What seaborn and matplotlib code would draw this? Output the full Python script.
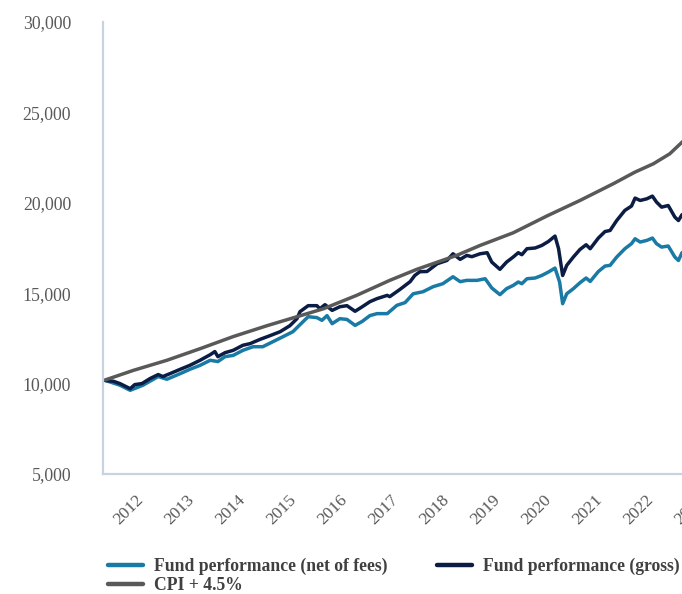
import matplotlib
matplotlib.use("Agg")
import matplotlib.pyplot as plt
import seaborn as sns
import pandas as pd
from matplotlib.ticker import FuncFormatter
from matplotlib.lines import Line2D

# ---- data ----
net_years = [2011.18, 2011.47, 2011.67, 2011.92, 2012.22, 2012.39, 2012.65, 2012.84, 2013.04, 2013.24,
             2013.39, 2013.53, 2013.69, 2013.88, 2014.08, 2014.27, 2014.47, 2014.67, 2014.86, 2015.00,
             2015.16, 2015.33, 2015.43, 2015.53, 2015.63, 2015.78, 2015.92, 2016.08, 2016.22, 2016.37,
             2016.51, 2016.71, 2016.90, 2017.06, 2017.22, 2017.41, 2017.61, 2017.80, 2018.00, 2018.14,
             2018.27, 2018.47, 2018.63, 2018.76, 2018.92, 2019.05, 2019.18, 2019.28, 2019.35, 2019.45,
             2019.61, 2019.74, 2019.87, 2020.00, 2020.09, 2020.15, 2020.23, 2020.36, 2020.49, 2020.61,
             2020.69, 2020.85, 2020.98, 2021.08, 2021.21, 2021.37, 2021.50, 2021.57, 2021.67, 2021.80,
             2021.91, 2021.99, 2022.09, 2022.22, 2022.35, 2022.42, 2022.49, 2022.60]
net_values = [10180, 9910, 9630, 9910, 10390, 10240, 10550, 10790, 11010, 11290,
              11220, 11490, 11560, 11840, 12040, 12040, 12320, 12600, 12870, 13260,
              13700, 13650, 13500, 13760, 13315, 13590, 13550, 13220, 13440, 13760,
              13870, 13870, 14330, 14480, 14970, 15080, 15360, 15525, 15910, 15640,
              15710, 15710, 15800, 15290, 14920, 15250, 15430, 15620, 15525, 15800,
              15840, 15980, 16170, 16390, 15620, 14420, 14970, 15250, 15580, 15840,
              15650, 16200, 16500, 16540, 17000, 17460, 17740, 18010, 17830, 17920,
              18050, 17740, 17550, 17610, 17000, 16810, 17240, 17400]

gross_years = [2011.18, 2011.34, 2011.47, 2011.67, 2011.76, 2011.90, 2012.06, 2012.22, 2012.31, 2012.45,
               2012.65, 2012.84, 2013.04, 2013.24, 2013.33, 2013.39, 2013.53, 2013.69, 2013.88, 2014.02,
               2014.22, 2014.41, 2014.61, 2014.80, 2014.94, 2015.00, 2015.16, 2015.33, 2015.39, 2015.49,
               2015.63, 2015.78, 2015.92, 2016.08, 2016.22, 2016.37, 2016.51, 2016.71, 2016.76, 2016.96,
               2017.16, 2017.25, 2017.35, 2017.49, 2017.69, 2017.88, 2018.00, 2018.14, 2018.27, 2018.37,
               2018.53, 2018.67, 2018.76, 2018.92, 2019.05, 2019.18, 2019.28, 2019.35, 2019.45, 2019.61,
               2019.74, 2019.87, 2020.00, 2020.07, 2020.15, 2020.23, 2020.36, 2020.49, 2020.61, 2020.69,
               2020.85, 2020.98, 2021.08, 2021.21, 2021.37, 2021.50, 2021.57, 2021.67, 2021.80, 2021.91,
               2021.99, 2022.09, 2022.22, 2022.35, 2022.42, 2022.49, 2022.60]
gross_values = [10170, 10130, 10000, 9720, 9945, 10000, 10280, 10500, 10390, 10550,
                10790, 11010, 11290, 11600, 11770, 11490, 11710, 11840, 12120, 12210,
                12450, 12650, 12870, 13200, 13590, 13980, 14310, 14310, 14140, 14365,
                14050, 14250, 14310, 14000, 14250, 14530, 14700, 14880, 14810, 15210,
                15640, 15980, 16190, 16200, 16630, 16810, 17180, 16870, 17090, 17020,
                17180, 17240, 16720, 16320, 16720, 17000, 17240, 17130, 17460, 17500,
                17640, 17860, 18160, 17460, 15980, 16540, 17000, 17420, 17680, 17460,
                18050, 18410, 18470, 19020, 19580, 19820, 20260, 20130, 20220, 20370,
                20040, 19760, 19850, 19210, 19020, 19340, 19500]

cpi_years = [2011.18, 2011.73, 2012.39, 2013.04, 2013.69, 2014.35, 2014.94, 2015.46, 2016.11, 2016.76,
             2017.29, 2018.07, 2018.53, 2019.18, 2019.84, 2020.49, 2021.14, 2021.57, 2021.93, 2022.25,
             2022.49, 2022.60]
cpi_values = [10200, 10730, 11290, 11930, 12600, 13200, 13700, 14140, 14880, 15710,
              16320, 17090, 17641, 18340, 19270, 20130, 21050, 21700, 22160, 22710,
              23350, 23650]

series_names = ["Fund performance (net of fees)", "Fund performance (gross)", "CPI + 4.5%"]
colors = ["#1a7aa6", "#0b1d44", "#595959"]
year_ticks = list(range(2012, 2024))
y_ticks = [5000, 10000, 15000, 20000, 25000, 30000]

df = pd.concat([
    pd.DataFrame({"year": net_years, "value": net_values, "series": series_names[0]}),
    pd.DataFrame({"year": gross_years, "value": gross_values, "series": series_names[1]}),
    pd.DataFrame({"year": cpi_years, "value": cpi_values, "series": series_names[2]}),
], ignore_index=True)

sns.set_theme(style="white")
plt.rcParams["font.family"] = ["Liberation Serif", "DejaVu Serif"]

fig = plt.figure(figsize=(6.82, 5.94), dpi=100)
ax = fig.add_axes([103 / 682, 120 / 594, 620.3 / 682, 452 / 594])

sns.lineplot(data=df, x="year", y="value", hue="series", hue_order=series_names,
             palette=colors, estimator=None, sort=True, linewidth=2.5, ax=ax, legend=False)

ax.set_xlim(2011.137, 2023.3)
ax.set_ylim(5000, 30000)
ax.set_xticks(year_ticks)
ax.set_xticklabels([str(y) for y in year_ticks], rotation=45, ha="right")
ax.set_yticks(y_ticks)
ax.yaxis.set_major_formatter(FuncFormatter(lambda v, p: f"{int(v):,}"))
ax.set_xlabel("")
ax.set_ylabel("")
ax.tick_params(axis="y", length=0, pad=23, labelsize=12.8, labelcolor="#595959")
ax.tick_params(axis="x", length=0, pad=13, labelsize=12.5, labelcolor="#595959")

for s in ["top", "right"]:
    ax.spines[s].set_visible(False)
for s in ["left", "bottom"]:
    ax.spines[s].set_color("#c8d3e2")
    ax.spines[s].set_linewidth(1.6)

handles = [Line2D([], [], color=colors[0], lw=3.2),
           Line2D([], [], color=colors[2], lw=3.2),
           Line2D([], [], color=colors[1], lw=3.2)]
labels = [series_names[0], series_names[2], series_names[1]]
fig.legend(handles, labels, ncol=2, loc="upper left", bbox_to_anchor=(108 / 682, 1 - 558 / 594),
           frameon=False, borderpad=0, borderaxespad=0, handlelength=2.0, handletextpad=0.6,
           columnspacing=2.8, labelspacing=0.12,
           prop={"family": "Liberation Serif", "weight": "bold", "size": 12.7}, labelcolor="#404040")

fig.savefig("out.png", dpi=100)
